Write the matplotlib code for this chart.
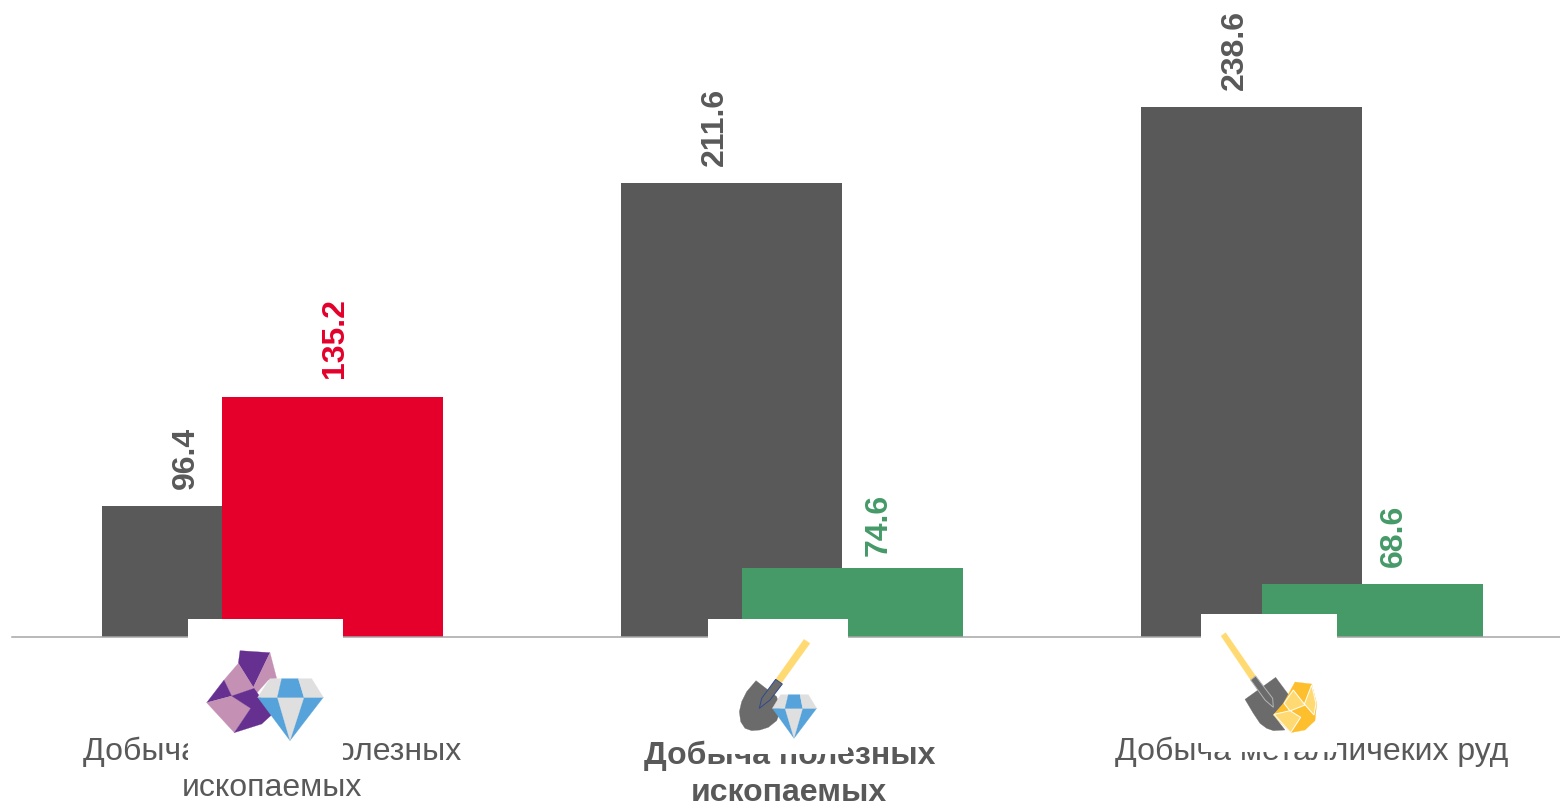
import matplotlib.pyplot as plt
from matplotlib.patches import Polygon, Rectangle
from matplotlib.transforms import ScaledTranslation
import numpy as np

plt.rcParams["font.family"] = ["Liberation Sans", "DejaVu Sans"]

# the original value axis starts at 50, not at zero
categories = ["Добыча прочих полезных\nископаемых", "Добыча полезных\nископаемых", "Добыча металличеких руд"]
first_values = [96.4, 211.6, 238.6]
second_values = [135.2, 74.6, 68.6]
second_colors = ["#E4002B", "#459A68", "#459A68"]

# label nudges in pixels
first_dx = [-26, -17, -17]
first_gap = [17, 17, 17]
second_dx = [2, 26, 21]
second_gap = [19, 12, 17]

GREY = "#595959"
PURPLE = "#653090"
PINK = "#C491B5"
BLUE = "#55A3DA"
PALE = "#DFDFDF"
YELLOW = "#FFDA73"
GOLD = "#FDBF2D"
STEEL = "#6B6B6B"
NAVY = "#2F4A8A"

W, H = 1560, 805
fig = plt.figure(figsize=(W / 100, H / 100), dpi=100)
ax = fig.add_axes([12 / W, (H - 637) / H, 1548 / W, 637 / H])

x = np.arange(3)
width = 0.425
offset = 0.1163

ax.bar(x - offset, first_values, width, color=GREY, zorder=2)
ax.bar(x + offset, second_values, width, color=second_colors, zorder=3)

ax.set_xlim(-0.501, 2.477)
ax.set_ylim(49.9, 276.6)

for i in x:
    ax.annotate(f"{first_values[i]:.1f}", (i - offset, first_values[i]),
                xytext=(first_dx[i], first_gap[i]), textcoords="offset pixels",
                rotation=90, ha="center", va="bottom", fontsize=23,
                fontweight="bold", color=GREY, zorder=4)
    ax.annotate(f"{second_values[i]:.1f}", (i + offset, second_values[i]),
                xytext=(second_dx[i], second_gap[i]), textcoords="offset pixels",
                rotation=90, ha="center", va="bottom", fontsize=23,
                fontweight="bold", color=second_colors[i], zorder=4)

for s in ["top", "left", "right"]:
    ax.spines[s].set_visible(False)
ax.spines["bottom"].set_color("#A6A6A6")
ax.spines["bottom"].set_linewidth(1.1)
ax.spines["bottom"].set_zorder(5)
ax.set_yticks([])
ax.set_xticks(x)
ax.set_xticklabels(categories, fontsize=23, color=GREY, linespacing=1.29)
ax.tick_params(axis="x", length=0, pad=71.5)
ax.xaxis.get_major_ticks()[1].set_pad(75)
mid_label = ax.xaxis.get_major_ticks()[1].label1
mid_label.set_fontweight("bold")
mid_label.set_transform(mid_label.get_transform() + ScaledTranslation(-0.03, 0, fig.dpi_scale_trans))

# pasted pictures sit on top of the chart, drawn in pixel space
top = fig.add_axes([0, 0, 1, 1], facecolor="none")
top.set_xlim(0, W)
top.set_ylim(H, 0)
top.axis("off")

for x0, y0, x1, y1 in [(188, 619, 343, 769), (708, 619, 848, 754), (1201, 614, 1337, 752)]:
    top.add_patch(Rectangle((x0, y0), x1 - x0, y1 - y0, fc="white", ec="none"))


def icon(origin, shapes):
    for pts, col, *edge in shapes:
        xy = np.array(pts) / 3 + origin
        top.add_patch(Polygon(xy, closed=True, fc=col,
                              ec=edge[0] if edge else col,
                              lw=0.7 if edge else 0.2))


def diamond(a, b, c, d0, d1, e, f, g, h, ytop, ymid, ybot):
    return [
        ([(a, ymid), (g, ymid), (f, ybot)], BLUE),
        ([(c, ymid), (e, ymid), (f, ybot)], PALE),
        ([(a, ymid), (b, ytop), (d0, ytop), (c, ymid)], PALE),
        ([(d0, ytop), (d1, ytop), (e, ymid), (c, ymid)], BLUE),
        ([(d1, ytop), (h, ytop), (g, ymid), (e, ymid)], PALE),
    ]


icon((80, 600), [
    ([(480, 152), (570, 158), (520, 262), (475, 190)], PURPLE),
    ([(570, 158), (590, 235), (565, 240), (525, 285), (520, 262)], PINK),
    ([(475, 190), (520, 262), (522, 265), (455, 288), (432, 240)], PINK),
    ([(432, 240), (455, 288), (380, 308)], PURPLE),
    ([(380, 308), (455, 288), (512, 325), (463, 398)], PINK),
    ([(455, 288), (522, 265), (540, 290), (580, 340), (545, 372), (463, 398), (512, 325)], PURPLE),
] + diamond(533, 570, 592, 605, 655, 672, 630, 730, 695, 236, 292, 422))

icon((620, 600), [
    ([(552, 118), (570, 130), (485, 248), (467, 238)], YELLOW),
    ([(408, 242), (470, 290), (482, 330), (470, 362), (445, 382), (420, 390), (395, 392),
      (375, 385), (362, 365), (358, 335), (365, 305), (380, 275)], STEEL),
    ([(467, 238), (487, 252), (450, 300), (418, 325), (425, 295)], STEEL, NAVY),
] + diamond(457, 482, 495, 505, 540, 548, 522, 590, 565, 284, 325, 415))

icon((1110, 600), [
    ([(333, 108), (347, 98), (437, 228), (422, 240)], YELLOW),
    ([(405, 298), (497, 232), (540, 290), (490, 345), (525, 390), (490, 392), (470, 385), (450, 370), (430, 340)], STEEL),
    ([(422, 240), (437, 228), (488, 295), (490, 322), (465, 300)], STEEL, "#B5B5B5"),
    ([(555, 246), (605, 252), (620, 310), (615, 362), (585, 390), (542, 398), (490, 345), (520, 310)], GOLD),
    ([(550, 270), (585, 315), (540, 333), (522, 310)], YELLOW, "white"),
    ([(605, 255), (618, 310), (612, 345), (583, 312)], YELLOW, "white"),
    ([(492, 343), (540, 332), (572, 352), (542, 398)], YELLOW, "white"),
])

fig.savefig("out.png", dpi=100)
